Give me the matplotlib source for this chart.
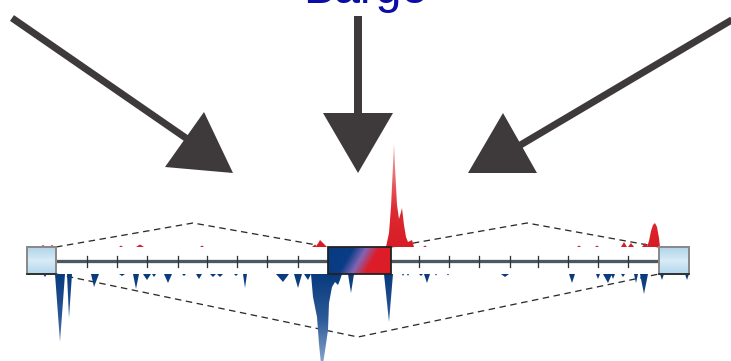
import numpy as np
import matplotlib.pyplot as plt
from matplotlib.path import Path
from matplotlib.patches import PathPatch, Polygon, Rectangle
from matplotlib.colors import LinearSegmentedColormap

W, H = 731, 361
PX = 0.72  # points per pixel at dpi 100

# track layout, in pixels
track_start, track_end = 56, 659
track_y = 261
top_base, bottom_base = 247, 274
left_box = (27, 56)
right_box = (659, 689)
mid_box = (328, 391)

tick_pos = [87, 117, 147, 178, 207, 237, 267, 298,
            419, 449, 479, 510, 538, 568, 598, 628]

# upper (red) signal: start, summit, end, height
red_peaks = [
    (40, 43, 46, 2), (49, 52, 55, 2), (119, 121, 123, 1.5),
    (136, 140, 144, 2.5), (200, 202, 204, 1.5),
    (312, 315, 318, 2.5), (316, 320, 327, 7),
    (423, 425, 427, 1.5), (577, 579, 581, 1.5), (595, 597, 599, 1.5),
    (621, 624, 627, 5), (628, 631, 634, 4), (642, 645, 648, 4),
    (666, 668, 670, 1), (677, 679, 681, 1),
]
red_cluster_x = [386, 389, 391, 393, 394, 395, 397, 399, 401, 402, 404, 406, 408, 410, 412, 414]
red_cluster_h = [0, 14, 40, 82, 104, 80, 42, 28, 35, 39, 22, 10, 5, 6, 7, 0]
red_bump_x = [647, 649, 651, 653, 655, 657, 659, 660]
red_bump_h = [0, 6, 16, 22, 24, 20, 9, 0]

# lower (blue) signal: start, summit, end, depth
blue_peaks = [
    (43, 45, 47, 3), (55, 60, 65, 68), (67, 69, 72, 44), (91, 94, 99, 13),
    (119, 122, 125, 2), (133, 136, 139, 15), (143, 147, 151, 6),
    (152, 154, 156, 3), (164, 168, 172, 9), (182, 184, 186, 2),
    (196, 199, 202, 5), (210, 213, 216, 3), (217, 220, 223, 3),
    (234, 236, 238, 2), (243, 245, 247, 14), (276, 283, 289, 8),
    (294, 298, 302, 14), (304, 308, 311, 6), (348, 351, 354, 19),
    (384, 389, 393, 48), (402, 403, 404, 2), (407, 408, 409, 2),
    (419, 421, 423, 2), (424, 427, 430, 9), (435, 436, 437, 1.5),
    (447, 448, 449, 1.5), (501, 505, 509, 3), (569, 572, 575, 9),
    (596, 598, 600, 5), (603, 608, 612, 9), (611, 613, 615, 5),
    (621, 623, 625, 3), (634, 636, 638, 9), (640, 644, 648, 20),
    (660, 662, 664, 6), (685, 687, 689, 6),
]
blue_cluster_x = [311, 313, 317, 319, 321, 323, 326, 328, 329, 332, 335, 338, 340, 342]
blue_cluster_d = [0, 23, 43, 70, 90, 90, 70, 56, 29, 13, 8, 11, 6, 0]


def peak_paths(peaks, base, sign):
    paths = []
    for s, m, e, h in peaks:
        paths.append(Path([(s, base), (m, base + sign * h), (e, base), (s, base)], closed=True))
    return paths


def profile_path(xs, hs, base, sign):
    verts = [(x, base + sign * h) for x, h in zip(xs, hs)]
    verts.append(verts[0])
    return Path(verts, closed=True)


def gradient_fill(ax, paths, colors, y0, y1, z):
    cmap = LinearSegmentedColormap.from_list('g', colors)
    img = ax.imshow(np.linspace(0, 1, 256).reshape(-1, 1), cmap=cmap,
                    extent=[0, W, y0, y1], origin='lower', aspect='auto',
                    interpolation='bilinear', zorder=z)
    clip = PathPatch(Path.make_compound_path(*paths), transform=ax.transData,
                     facecolor='none', edgecolor='none')
    ax.add_patch(clip)
    img.set_clip_path(clip)


fig = plt.figure(figsize=(W / 100, H / 100), dpi=100)
ax = fig.add_axes([0, 0, 1, 1])

# dashed outlines around the track
dash = dict(color='#2b2b2b', lw=1.0 * PX * 1.3, dashes=(5, 3.5), zorder=1)
ax.plot([left_box[1], 193, mid_box[0]], [top_base, 223, top_base], **dash)
ax.plot([mid_box[1], 527, right_box[0]], [top_base, 223, top_base], **dash)
ax.plot([left_box[1], 358, right_box[0]], [bottom_base, 337, bottom_base], **dash)

# signal tracks
red = peak_paths(red_peaks, top_base, -1)
red.append(profile_path(red_cluster_x, red_cluster_h, top_base, -1))
red.append(profile_path(red_bump_x, red_bump_h, top_base, -1))
gradient_fill(ax, red, [(0, '#d81c25'), (0.35, '#de2a31'), (1, '#f5b4b4')], top_base, 140, 2)

blue = peak_paths(blue_peaks, bottom_base, 1)
blue.append(profile_path(blue_cluster_x, blue_cluster_d, bottom_base, 1))
gradient_fill(ax, blue, ['#083a7e', '#2d5a98', '#8ea8cf'], bottom_base, 365, 2)

# backbone and ticks
ax.plot([track_start, track_end], [track_y, track_y], color='#4b5862',
        lw=3.3 * PX, solid_capstyle='butt', zorder=3)
for t in tick_pos:
    ax.plot([t, t], [256, 267], color='#333333', lw=1.3 * PX, zorder=3)

# end boxes with a light blue gradient
box_cmap = LinearSegmentedColormap.from_list('box', ['#b2d6ec', '#d8ecf6', '#b0d4ea'])
for x0, x1 in (left_box, right_box):
    ax.imshow(np.linspace(0, 1, 64).reshape(-1, 1), cmap=box_cmap,
              extent=[x0, x1, bottom_base, top_base], origin='lower',
              aspect='auto', zorder=4)
    ax.add_patch(Rectangle((x0, top_base), x1 - x0, bottom_base - top_base,
                           facecolor='none', edgecolor='#8a8a8a', lw=2 * PX, zorder=5))
    ax.plot([x0, x1], [bottom_base, bottom_base], color='#1e1e1e', lw=1.6 * PX, zorder=5)

# centre box: blue to red diagonal blend
gx, gy = np.meshgrid(np.linspace(0, 1, 128), np.linspace(0, 1, 64))
mid_cmap = LinearSegmentedColormap.from_list(
    'mid', [(0, '#063a82'), (0.33, '#0a3d86'), (0.5, '#8464b4'),
            (0.66, '#dc1e2a'), (1, '#dc1c26')])
ax.imshow(gx * 0.8 + 0.2 * (1 - gy), cmap=mid_cmap,
          extent=[mid_box[0], mid_box[1], bottom_base, top_base], origin='lower',
          aspect='auto', interpolation='bilinear', zorder=4)
ax.add_patch(Rectangle((mid_box[0], top_base), mid_box[1] - mid_box[0],
                       bottom_base - top_base, facecolor='none',
                       edgecolor='#222222', lw=1.8 * PX, zorder=5))

# arrows pointing at the track
arrow_c = '#3e3a3b'
ax.plot([12, 196], [18, 145], color=arrow_c, lw=7 * PX, solid_capstyle='butt', zorder=6)
ax.add_patch(Polygon([(204, 112), (165, 167), (233, 173)], closed=True,
                     facecolor=arrow_c, edgecolor='none', zorder=6))
ax.plot([358, 358], [16, 120], color=arrow_c, lw=8 * PX, solid_capstyle='butt', zorder=6)
ax.add_patch(Polygon([(323, 113), (393, 113), (358, 173)], closed=True,
                     facecolor=arrow_c, edgecolor='none', zorder=6))
ax.plot([735, 512], [18, 150], color=arrow_c, lw=7 * PX, solid_capstyle='butt', zorder=6)
ax.add_patch(Polygon([(503, 113), (468, 173), (537, 173)], closed=True,
                     facecolor=arrow_c, edgecolor='none', zorder=6))

ax.text(365, 3, 'Barge', color='#0c0ca6', fontsize=33.5, family='Liberation Sans',
        ha='center', va='baseline', zorder=7)

ax.set_xlim(0, W)
ax.set_ylim(H, 0)
ax.axis('off')
fig.savefig('out.png', dpi=100)
